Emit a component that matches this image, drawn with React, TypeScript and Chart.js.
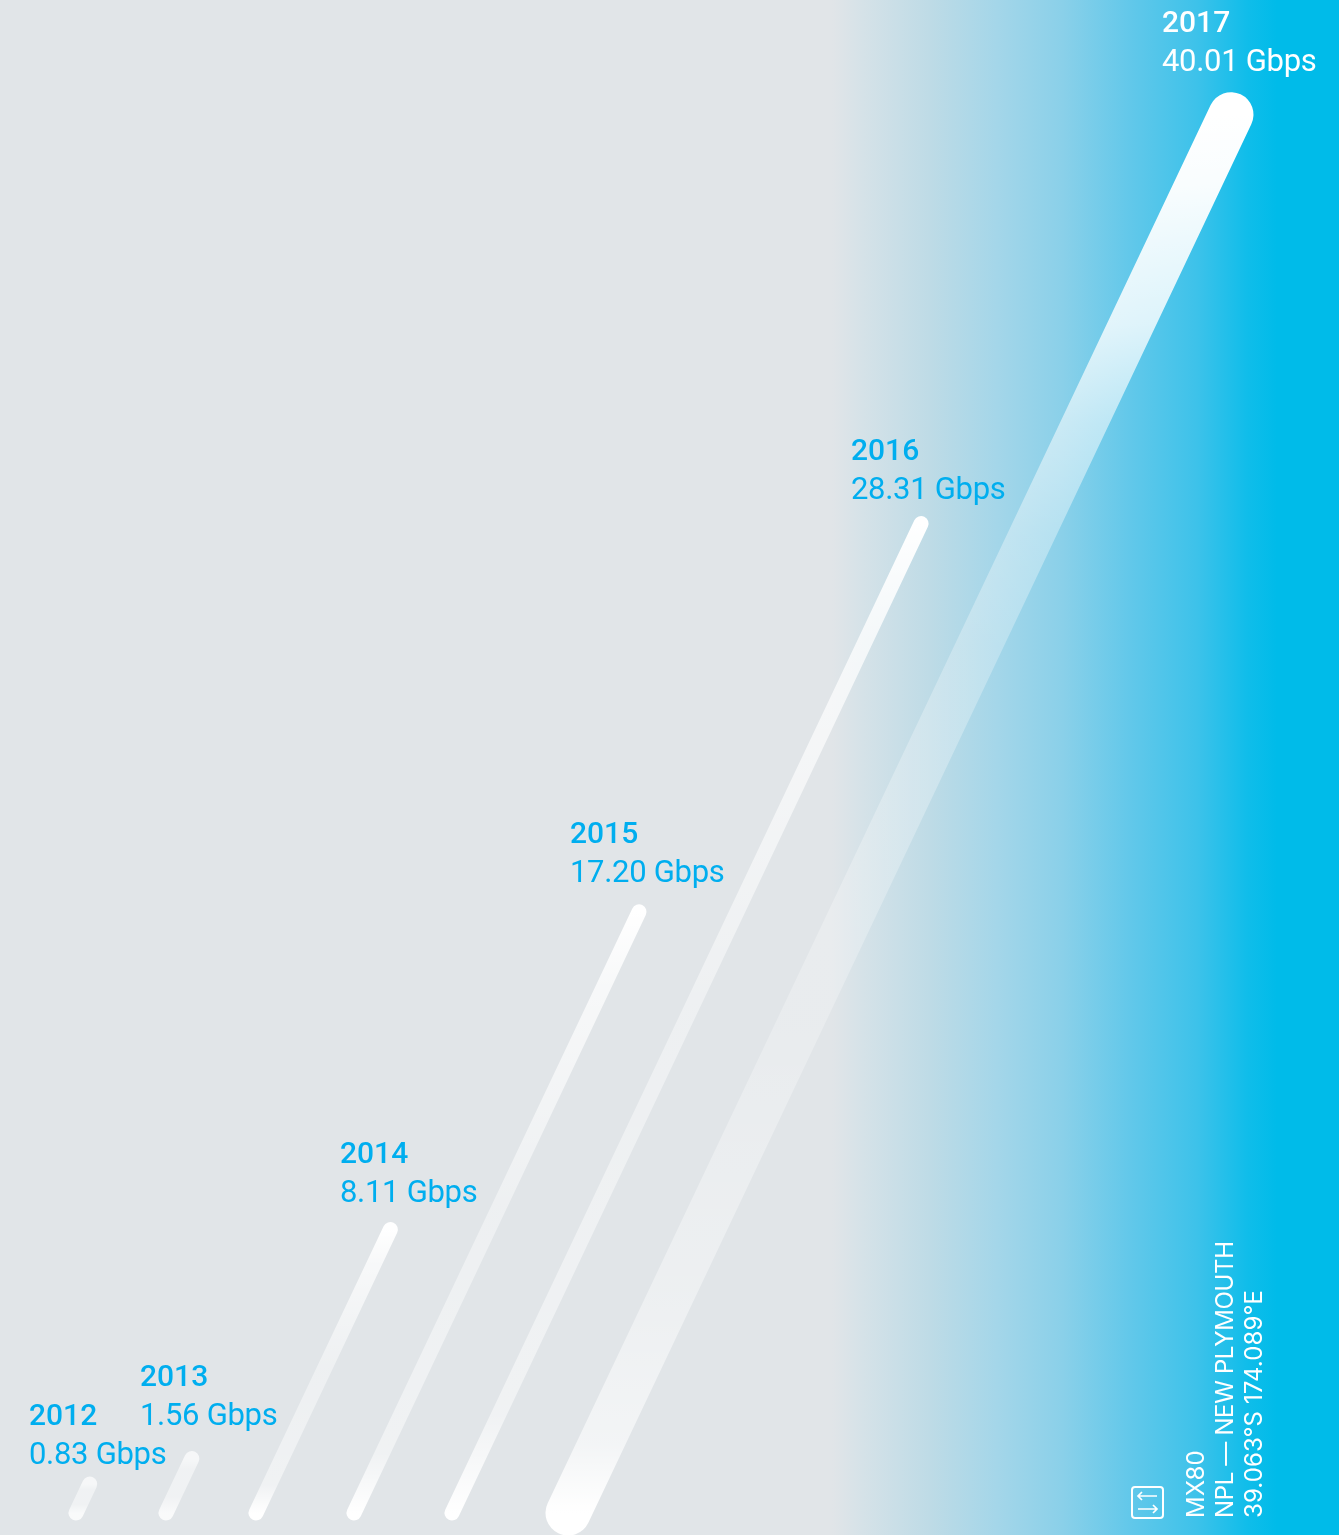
import React, { useEffect, useRef } from "react";
import { Chart, registerables } from "chart.js";

Chart.register(...registerables);

const years = ["2012", "2013", "2014", "2015", "2016", "2017"];
const speeds = [0.83, 1.56, 8.11, 17.2, 28.31, 40.01];
const speedLabels = ["0.83 Gbps", "1.56 Gbps", "8.11 Gbps", "17.20 Gbps", "28.31 Gbps", "40.01 Gbps"];
const metaLines = ["MX80", "NPL — NEW PLYMOUTH", "39.063°S 174.089°E"];

// Layout
const W = 1339;
const H = 1535;
const BASE_PX = 1513;
const PX_PER_GBPS = 34.95;
const LEAN = 16.57;
const SLOTS = [76, 166, 256, 354, 452, 568];
const WIDTHS = [15, 15, 15, 15, 15, 45];
const LABEL_X = [29, 140, 340, 570, 851, 1162];
const LABEL_Y = [1417, 1378, 1155, 835, 452, 24];
const BLUE = "#00aeef";
const META_X = [1197, 1226, 1255];
const META_SPACING = ["0px", "-0.35px", "0.1px"];

const BAR_STOPS: number[][] = [
  [0, 0.7], [0.2, 0.5], [0.7, 0.5], [1, 0.8],
];
const THIN_STOPS: number[][] = [
  [0, 1], [0.12, 0.75], [0.5, 0.42], [0.9, 0.5], [1, 1],
];
const BIG_STOPS: number[][] = [
  [0, 1], [0.05, 0.97], [0.15, 0.8], [0.22, 0.55], [0.3, 0.36], [0.38, 0.28], [0.5, 0.28], [0.65, 0.26], [0.85, 0.42], [0.95, 0.6], [1, 1],
];
const BG_STOPS: [number, string][] = [
  [0, "#e1e5e8"], [832, "#e1e5e8"], [863, "#d5e2e8"], [930, "#bedbe6"], [997, "#a4d6e9"], [1063, "#8ad0e9"], [1130, "#62c8ea"], [1197, "#3dc2ea"], [1247, "#10bdea"], [1277, "#00bbe9"], [1339, "#00bbe9"],
];

const backdrop = {
  id: "backdrop",
  beforeDraw(chart: any) {
    const c = chart.ctx;
    const g = c.createLinearGradient(0, 0, W, 0);
    BG_STOPS.forEach(([x, col]) => g.addColorStop(x / W, col));
    c.save();
    c.fillStyle = g;
    c.fillRect(0, 0, W, H);
    c.restore();
  },
};

function setFont(c: any, font: string, spacing: string) {
  c.font = font;
  c.letterSpacing = spacing;
}

const annotations = {
  id: "annotations",
  afterDatasetsDraw(chart: any) {
    const c = chart.ctx;
    c.save();
    c.textBaseline = "middle";
    c.textAlign = "left";
    years.forEach((year, i) => {
      c.fillStyle = i === 5 ? "#ffffff" : BLUE;
      setFont(c, "500 30px Roboto", "0px");
      c.fillText(year, LABEL_X[i], LABEL_Y[i]);
      setFont(c, "400 31px Roboto", "-0.3px");
      c.fillText(speedLabels[i], LABEL_X[i], LABEL_Y[i] + 39);
    });
    c.fillStyle = "#ffffff";
    metaLines.forEach((line, i) => {
      c.save();
      c.translate(META_X[i], 1518);
      c.rotate(-Math.PI / 2);
      setFont(c, "400 24px Inter", META_SPACING[i]);
      c.fillText(line, 0, 0);
      c.restore();
    });
    c.strokeStyle = "#ffffff";
    c.lineWidth = 2;
    c.beginPath();
    c.roundRect(1132, 1487, 31, 31, 3);
    c.stroke();
    c.lineWidth = 1.7;
    c.beginPath();
    c.moveTo(1138, 1496); c.lineTo(1157, 1496);
    c.moveTo(1142, 1492); c.lineTo(1138, 1496); c.lineTo(1142, 1500);
    c.moveTo(1138, 1509); c.lineTo(1157, 1509);
    c.moveTo(1153, 1505); c.lineTo(1157, 1509); c.lineTo(1153, 1513);
    c.stroke();
    c.restore();
  },
};

function barColor(ctx: any, i: number) {
  const chart = ctx.chart;
  if (!chart.chartArea) return "#ffffff";
  const y = chart.scales.y;
  const top = y.getPixelForValue(speeds[i]);
  const bottom = y.getPixelForValue(0);
  const g = chart.ctx.createLinearGradient(0, top, 0, bottom);
  const stops = i === 5 ? BIG_STOPS : i < 2 ? BAR_STOPS : THIN_STOPS;
  stops.forEach(([t, a]) => g.addColorStop(t, `rgba(255,255,255,${a})`));
  return g;
}

export default function App() {
  const ref = useRef<HTMLCanvasElement>(null);
  useEffect(() => {
    const chart = new Chart(ref.current as HTMLCanvasElement, {
      type: "scatter",
      data: {
        datasets: years.map((year, i) => ({
          label: year,
          data: [
            { x: SLOTS[i], y: 0 },
            { x: SLOTS[i] + LEAN * speeds[i], y: speeds[i] },
          ],
          showLine: true,
          pointRadius: 0,
          borderWidth: WIDTHS[i],
          borderCapStyle: "round",
          borderColor: (ctx: any) => barColor(ctx, i),
        })),
      },
      options: {
        animation: false,
        responsive: false,
        devicePixelRatio: 1,
        layout: { padding: 0 },
        plugins: { legend: { display: false }, tooltip: { enabled: false } },
        scales: {
          x: { type: "linear", display: false, min: 0, max: W },
          y: {
            type: "linear",
            display: false,
            min: (BASE_PX - H) / PX_PER_GBPS,
            max: BASE_PX / PX_PER_GBPS,
          },
        },
      },
      plugins: [backdrop, annotations],
    } as any);
    return () => chart.destroy();
  }, []);
  return (
    <div style={{ position: "absolute", left: 0, top: 0, width: W, height: H }}>
      <canvas ref={ref} width={W} height={H} style={{ display: "block" }} />
    </div>
  );
}
